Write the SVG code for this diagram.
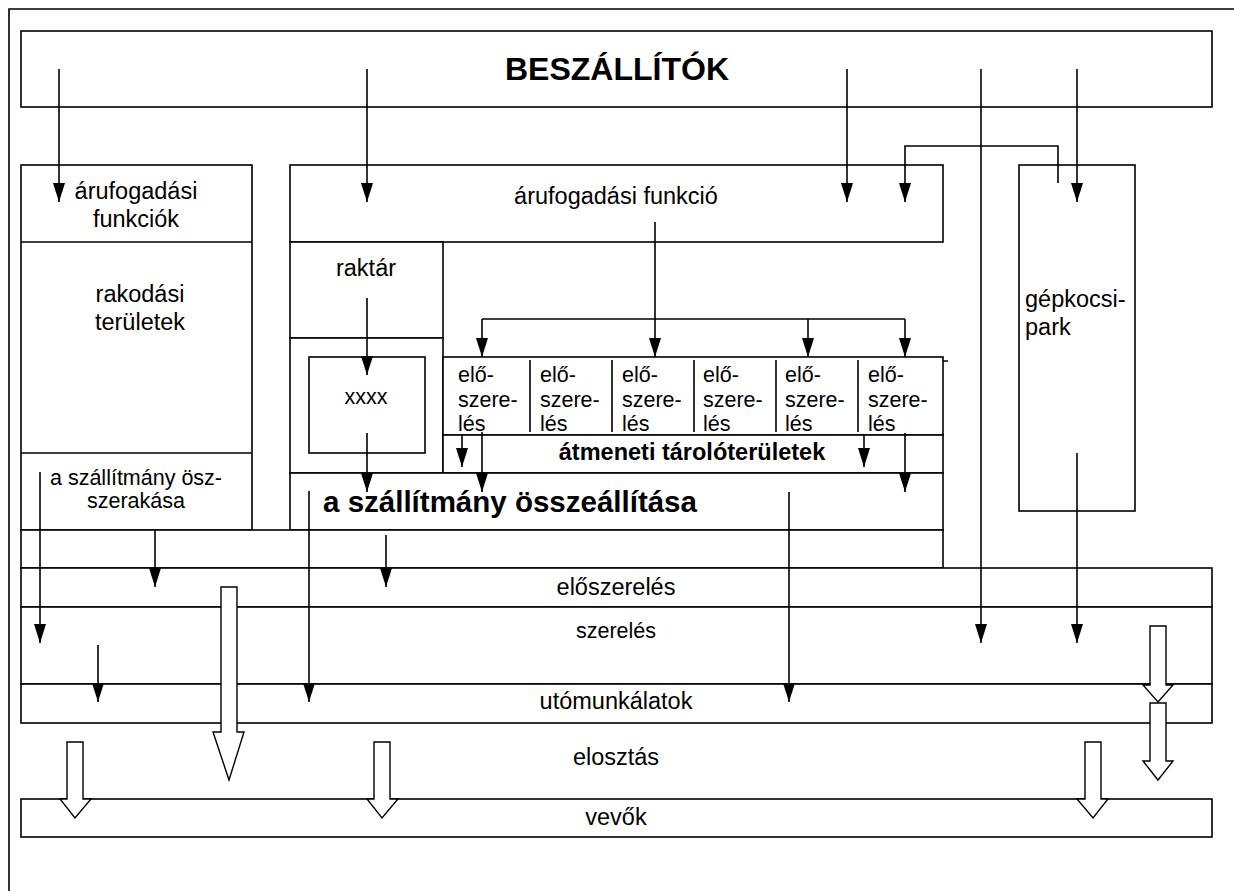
<svg xmlns="http://www.w3.org/2000/svg" width="1234" height="891" viewBox="0 0 1234 891">
<style>
.box{fill:#fff;stroke:#000;stroke-width:1.6}
.ln{fill:none;stroke:#000;stroke-width:1.6}
.con{fill:none;stroke:#000;stroke-width:1.6}
.arr{marker-end:url(#ah)}
.blk{fill:#fff;stroke:#000;stroke-width:1.4}
text{font-family:"Liberation Sans",Arial,sans-serif;fill:#000}
.t24{font-size:23.5px}
.t21{font-size:21.5px}
.c{text-anchor:middle}
.b{font-weight:bold}
</style>
<defs>
<marker id="ah" markerUnits="userSpaceOnUse" viewBox="0 0 19 12" markerWidth="19" markerHeight="12" refX="19" refY="6" orient="auto">
<path d="M0,0 L19,6 L0,12 z" fill="#000"/>
</marker>
</defs>
<rect width="1234" height="891" fill="#fff"/>
<g id="frame">
<path class="ln" d="M9,891 V9 H1234" stroke-width="2.4"/>
</g>
<g id="beszallitok">
<rect class="box" x="21" y="31" width="1191" height="76"/>
<text class="c b" x="617" y="80" font-size="32">BESZÁLLÍTÓK</text>
</g>
<g id="bal-oszlop">
<rect class="box" x="21" y="165" width="231" height="365"/>
<path class="ln" d="M21,242 H252 M21,453 H252"/>
<text class="t24 c" x="136" y="199">árufogadási</text>
<text class="t24 c" x="136" y="227">funkciók</text>
<text class="t24 c" x="140" y="302">rakodási</text>
<text class="t24 c" x="140" y="330">területek</text>
<text class="t21 c" x="136" y="485">a szállítmány ösz-</text>
<text class="t21 c" x="136" y="508">szerakása</text>
</g>
<g id="arufogadasi-funkcio">
<rect class="box" x="290" y="165" width="653" height="77"/>
<text class="t24 c" x="616" y="204">árufogadási funkció</text>
</g>
<g id="raktar">
<rect class="box" x="290" y="242" width="153" height="96"/>
<text class="t24 c" x="366" y="276">raktár</text>
</g>
<g id="raktar-also">
<rect class="box" x="290" y="338" width="153" height="135"/>
</g>
<g id="xxxx">
<rect class="box" x="309" y="357" width="116" height="96"/>
<text class="t21 c" x="366" y="404">xxxx</text>
</g>
<g id="eloszereles-cellak">
<rect class="box" x="443" y="357" width="500" height="78"/>
<path class="ln" d="M530,360 V432 M612,360 V432 M694,360 V432 M776,360 V432 M858,360 V432 M943,361 H948"/>
<text class="t21" x="458" y="382">elő-</text><text class="t21" x="458" y="407">szere-</text><text class="t21" x="458" y="431">lés</text>
<text class="t21" x="540" y="382">elő-</text><text class="t21" x="540" y="407">szere-</text><text class="t21" x="540" y="431">lés</text>
<text class="t21" x="622" y="382">elő-</text><text class="t21" x="622" y="407">szere-</text><text class="t21" x="622" y="431">lés</text>
<text class="t21" x="703" y="382">elő-</text><text class="t21" x="703" y="407">szere-</text><text class="t21" x="703" y="431">lés</text>
<text class="t21" x="785" y="382">elő-</text><text class="t21" x="785" y="407">szere-</text><text class="t21" x="785" y="431">lés</text>
<text class="t21" x="868" y="382">elő-</text><text class="t21" x="868" y="407">szere-</text><text class="t21" x="868" y="431">lés</text>
</g>
<g id="atmeneti">
<rect class="box" x="443" y="435" width="500" height="38"/>
<text class="t24 c b" x="692" y="460">átmeneti tárolóterületek</text>
</g>
<g id="osszeallitas">
<rect class="box" x="290" y="473" width="653" height="57"/>
<text class="c b" x="510" y="512" font-size="29.5">a szállítmány összeállítása</text>
</g>
<g id="atmeneti-sor">
<rect class="box" x="21" y="530" width="922" height="38"/>
</g>
<g id="gepkocsipark">
<rect class="box" x="1019" y="165" width="116" height="346"/>
<text class="t24" x="1025" y="307">gépkocsi-</text>
<text class="t24" x="1025" y="335">park</text>
</g>
<g id="eloszereles">
<rect class="box" x="21" y="568" width="1191" height="39"/>
<text class="t24 c" x="616" y="595">előszerelés</text>
</g>
<g id="szereles">
<rect class="box" x="21" y="607" width="1191" height="77"/>
<text class="t21 c" x="616" y="638">szerelés</text>
</g>
<g id="utomunkalatok">
<rect class="box" x="21" y="684" width="1191" height="39"/>
<text class="t24 c" x="616" y="709">utómunkálatok</text>
</g>
<g id="elosztas">
<text class="t24 c" x="616" y="765">elosztás</text>
</g>
<g id="vevok">
<rect class="box" x="21" y="799" width="1191" height="38"/>
<text class="t24 c" x="616" y="825">vevők</text>
</g>
<g id="connectors">
<path class="con arr" d="M59,69 V202"/>
<path class="con arr" d="M367,69 V202"/>
<path class="con arr" d="M847,69 V202"/>
<path class="con arr" d="M1077,69 V202"/>
<path class="con arr" d="M981,69 V643"/>
<path class="con arr" d="M1058,183 V146 H905 V202"/>
<path class="con arr" d="M1077,453 V643"/>
<path class="con" d="M655,222 V319"/>
<path class="con arr" d="M655,319 V357"/>
<path class="con arr" d="M482,319 V357"/>
<path class="con arr" d="M808,319 V357"/>
<path class="con arr" d="M905,319 V357"/>
<path class="con" d="M482,319 H905"/>
<path class="con arr" d="M367,298 V375"/>
<path class="con arr" d="M367,433 V492"/>
<path class="con arr" d="M462,435 V467"/>
<path class="con arr" d="M482,432 V492"/>
<path class="con arr" d="M864,435 V467"/>
<path class="con arr" d="M905,433 V492"/>
<path class="con arr" d="M40,472 V643"/>
<path class="con arr" d="M155,530 V587"/>
<path class="con arr" d="M386,535 V587"/>
<path class="con arr" d="M309,491 V702"/>
<path class="con arr" d="M98,645 V702"/>
<path class="con arr" d="M789,492 V702"/>
<polygon class="blk" points="221,587 237,587 237,732 244,732 229,780 213,732 221,732"/>
<polygon class="blk" points="67,742 83,742 83,799 91,799 75,818 60,799 67,799"/>
<polygon class="blk" points="374,742 390,742 390,799 398,799 382,818 367,799 374,799"/>
<polygon class="blk" points="1085,742 1101,742 1101,799 1108,799 1093,818 1077,799 1085,799"/>
<polygon class="blk" points="1150,626 1166,626 1166,685 1173,685 1158,702 1143,685 1150,685"/>
<polygon class="blk" points="1150,703 1166,703 1166,761 1173,761 1158,780 1143,761 1150,761"/>
</g>
</svg>
